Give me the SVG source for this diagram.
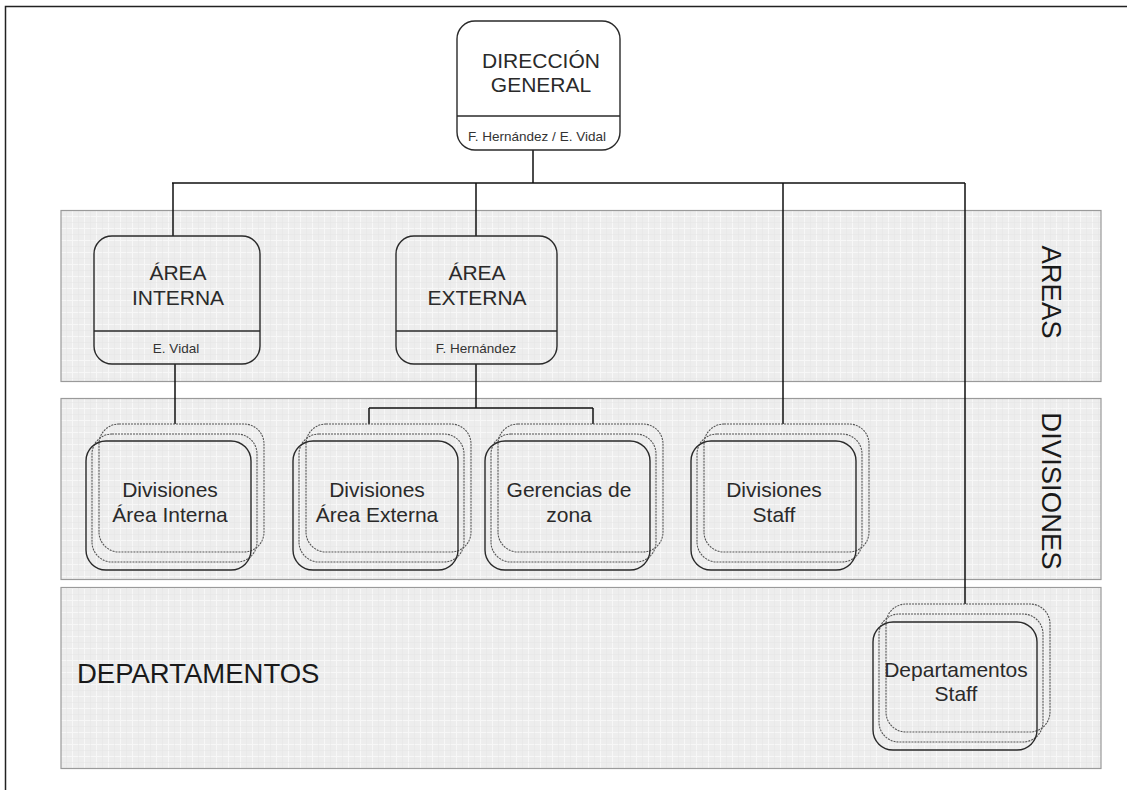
<svg xmlns="http://www.w3.org/2000/svg" width="1127" height="790" viewBox="0 0 1127 790">
<defs>
<pattern id="grid" width="12" height="12" patternUnits="userSpaceOnUse">
<rect width="12" height="12" fill="#ededed"/>
<path d="M0 0.5H12M0.5 0V12" stroke="#f7f7f7" stroke-width="1"/>
<path d="M0 6.5H12M6.5 0V12" stroke="#e4e4e4" stroke-width="0.5"/>
</pattern>
<style>
.band{fill:url(#grid);stroke:#9a9a9a;stroke-width:1.2}
.box{fill:none;stroke:#2a2a2a;stroke-width:1.4}
.dash{fill:none;stroke:#555;stroke-width:1.1;stroke-dasharray:2 1}
.conn{fill:none;stroke:#111;stroke-width:1.5}
.t{font-family:"Liberation Sans",Arial,sans-serif;font-size:21px;fill:#2a2a2a;text-anchor:middle}
.s{font-family:"Liberation Sans",Arial,sans-serif;font-size:13.5px;fill:#333;text-anchor:middle}
.b{font-family:"Liberation Sans",Arial,sans-serif;font-size:27.5px;fill:#1a1a1a}
</style>
</defs>
<rect width="1127" height="790" fill="#fff"/>
<path d="M5.5 790V6.5H1127" fill="none" stroke="#222" stroke-width="1.5"/>

<g id="band-areas"><rect class="band" x="61" y="210.5" width="1040" height="171"/>
<text class="b" text-anchor="middle" transform="translate(1042,292) rotate(90)">AREAS</text></g>
<g id="band-divisiones"><rect class="band" x="61" y="398.5" width="1040" height="181"/>
<text class="b" text-anchor="middle" transform="translate(1042,491) rotate(90)">DIVISIONES</text></g>
<g id="band-departamentos"><rect class="band" x="61" y="587.5" width="1040" height="181"/>
<text class="b" x="77" y="683">DEPARTAMENTOS</text></g>

<g id="connectors">
<path class="conn" d="M533 150V183M172 183H965M173 183V236M476 183V236M783 183V424M965 183V604"/>
<path class="conn" d="M175 364V424M476 364V408M369 408H593M369 408V424M593 408V424"/>
</g>

<g id="direccion-general">
<rect class="box" x="457" y="21" width="163" height="129" rx="18"/>
<line class="box" x1="457" y1="116" x2="620" y2="116"/>
<text class="t" x="541" y="68">DIRECCIÓN</text>
<text class="t" x="541" y="92">GENERAL</text>
<text class="s" x="537" y="141">F. Hernández / E. Vidal</text>
</g>

<g id="area-interna">
<rect class="box" x="94" y="236" width="166" height="128" rx="18"/>
<line class="box" x1="94" y1="331" x2="260" y2="331"/>
<text class="t" x="178" y="280">ÁREA</text>
<text class="t" x="178" y="305">INTERNA</text>
<text class="s" x="176" y="353">E. Vidal</text>
</g>

<g id="area-externa">
<rect class="box" x="396" y="236" width="161" height="128" rx="18"/>
<line class="box" x1="396" y1="331" x2="557" y2="331"/>
<text class="t" x="477" y="280">ÁREA</text>
<text class="t" x="477" y="305">EXTERNA</text>
<text class="s" x="476" y="353">F. Hernández</text>
</g>

<g id="divisiones-area-interna">
<rect class="dash" x="99" y="424" width="165" height="128" rx="20"/>
<rect class="dash" x="92" y="434" width="165" height="128" rx="20"/>
<rect class="box" x="86" y="441" width="165" height="129" rx="20"/>
<text class="t" x="170" y="497">Divisiones</text>
<text class="t" x="170" y="522">Área Interna</text>
</g>

<g id="divisiones-area-externa">
<rect class="dash" x="306" y="424" width="165" height="128" rx="20"/>
<rect class="dash" x="299" y="434" width="165" height="128" rx="20"/>
<rect class="box" x="293" y="441" width="165" height="129" rx="20"/>
<text class="t" x="377" y="497">Divisiones</text>
<text class="t" x="377" y="522">Área Externa</text>
</g>

<g id="gerencias-de-zona">
<rect class="dash" x="498" y="424" width="165" height="128" rx="20"/>
<rect class="dash" x="491" y="434" width="165" height="128" rx="20"/>
<rect class="box" x="485" y="441" width="165" height="129" rx="20"/>
<text class="t" x="569" y="497">Gerencias de</text>
<text class="t" x="569" y="522">zona</text>
</g>

<g id="divisiones-staff">
<rect class="dash" x="704" y="424" width="165" height="128" rx="20"/>
<rect class="dash" x="697" y="434" width="165" height="128" rx="20"/>
<rect class="box" x="691" y="441" width="165" height="129" rx="20"/>
<text class="t" x="774" y="497">Divisiones</text>
<text class="t" x="774" y="522">Staff</text>
</g>

<g id="departamentos-staff">
<rect class="dash" x="886" y="604" width="164" height="128" rx="20"/>
<rect class="dash" x="879" y="614" width="164" height="128" rx="20"/>
<rect class="box" x="873" y="622" width="164" height="128" rx="20"/>
<text class="t" x="956" y="677">Departamentos</text>
<text class="t" x="956" y="701">Staff</text>
</g>
</svg>
